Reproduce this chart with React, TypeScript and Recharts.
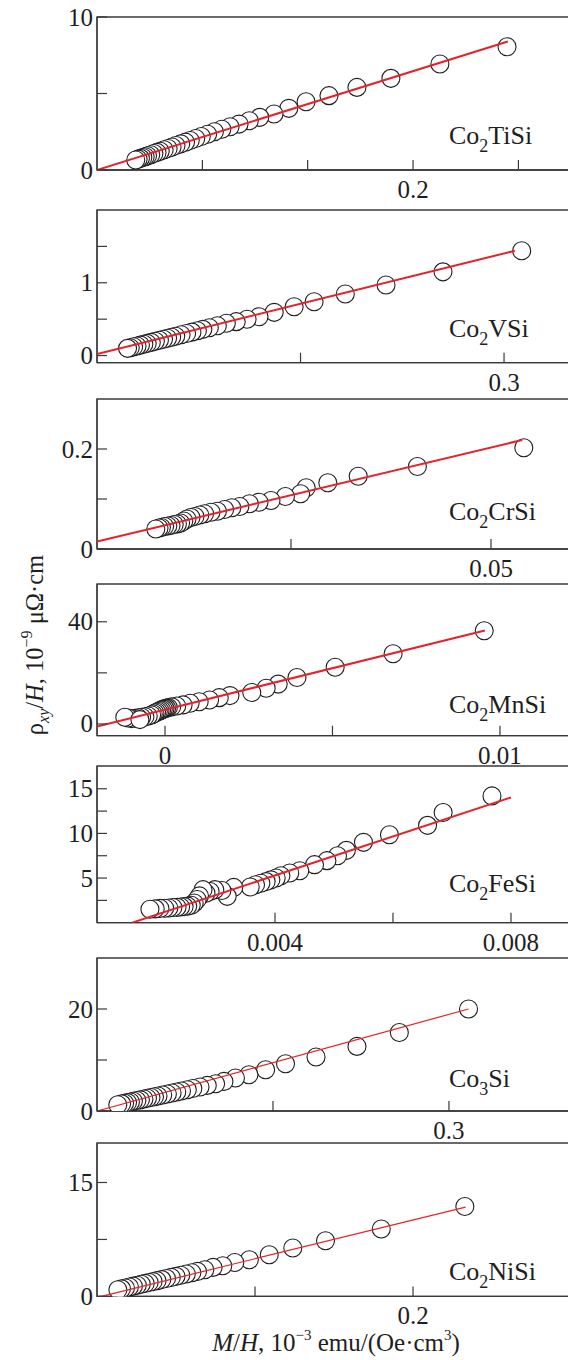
import React from 'react'
import { ScatterChart, Scatter, XAxis, YAxis, ReferenceArea } from 'recharts'

const FONT = '"Liberation Serif", "Times New Roman", serif'
const AXIS = '#3a3a3a'
const RED = '#e5222a'
const INK = '#1e1e1e'

// Co2TiSi
const tiX = [0.2595, 0.217, 0.186, 0.1645, 0.1468, 0.1323, 0.1214, 0.112, 0.103, 0.0964, 0.0899, 0.0842, 0.079, 0.0743, 0.070, 0.066, 0.0625, 0.059, 0.056, 0.053, 0.050, 0.0475, 0.045, 0.0425, 0.040, 0.038, 0.036, 0.034, 0.032, 0.0305, 0.029, 0.0275, 0.026, 0.0245]
const tiY = [8.06, 6.93, 5.99, 5.40, 4.86, 4.46, 4.03, 3.66, 3.44, 3.22, 3.0, 2.83, 2.66, 2.5, 2.34, 2.19, 2.06, 1.93, 1.82, 1.71, 1.60, 1.50, 1.41, 1.32, 1.23, 1.15, 1.08, 1.00, 0.93, 0.87, 0.82, 0.76, 0.71, 0.65]
const tiFitX = [0, 0.26]
const tiFitY = [0, 8.4]

// Co2VSi
const vX = [0.313, 0.255, 0.213, 0.183, 0.160, 0.1453, 0.1306, 0.1194, 0.1106, 0.1026, 0.0953, 0.0887, 0.0828, 0.078, 0.074, 0.070, 0.066, 0.062, 0.058, 0.055, 0.052, 0.049, 0.046, 0.043, 0.040, 0.037, 0.0345, 0.032, 0.0295, 0.027, 0.0245, 0.0225]
const vY = [1.44, 1.15, 0.97, 0.846, 0.74, 0.67, 0.594, 0.534, 0.498, 0.466, 0.443, 0.41, 0.383, 0.36, 0.341, 0.322, 0.303, 0.285, 0.266, 0.252, 0.238, 0.224, 0.21, 0.196, 0.181, 0.167, 0.155, 0.144, 0.132, 0.12, 0.108, 0.099]
const vFitX = [0, 0.308]
const vFitY = [0.02, 1.44]

// Co2CrSi
const crX = [0.0541, 0.0408, 0.0334, 0.0296, 0.0269, 0.0262, 0.0243, 0.0225, 0.021, 0.0198, 0.0186, 0.0176, 0.0167, 0.0158, 0.015, 0.0142, 0.0136, 0.013, 0.0125, 0.012, 0.0116, 0.0112, 0.0108, 0.0104, 0.010, 0.0096, 0.0092, 0.0088, 0.0085, 0.0081]
const crY = [0.2024, 0.165, 0.1456, 0.1324, 0.1224, 0.1104, 0.105, 0.097, 0.0936, 0.0904, 0.085, 0.0824, 0.079, 0.0756, 0.0736, 0.0704, 0.068, 0.065, 0.063, 0.060, 0.056, 0.052, 0.050, 0.049, 0.047, 0.046, 0.045, 0.043, 0.042, 0.040]
const crFitX = [0.00075, 0.0539]
const crFitY = [0.015, 0.218]

// Co2MnSi
const mnX = [0.00953, 0.00681, 0.00508, 0.00394, 0.00338, 0.00302, 0.00259, 0.00194, 0.00162, 0.00133, 0.00102, 0.00075, 0.00054, 0.00035, 0.0002, 0.0001, 0.00005, 0.0, -0.00005, -0.0001, -0.00015, -0.0002, -0.00025, -0.0003, -0.00035, -0.0004, -0.0005, -0.0006, -0.0007, -0.0008, -0.0009, -0.001, -0.0011, -0.0012, -0.00075]
const mnY = [36.5, 27.5, 22.2, 18.2, 15.6, 14.0, 12.3, 11.1, 10.3, 9.4, 8.7, 8.1, 7.45, 7.0, 6.7, 6.4, 6.2, 6.0, 5.8, 5.5, 5.2, 4.9, 4.6, 4.3, 3.9, 3.5, 3.1, 2.8, 2.6, 2.4, 2.2, 2.1, 2.3, 2.6, 1.7]
const mnFitX = [-0.00203, 0.00955]
const mnFitY = [-1.0, 36.6]

// Co2FeSi
const feX = [0.007678, 0.00685, 0.006586, 0.00594, 0.0055, 0.00521, 0.00506, 0.00488, 0.00467, 0.00442, 0.00425, 0.0041, 0.00402, 0.00393, 0.00385, 0.00376, 0.00367, 0.00358, 0.0033, 0.00319, 0.0031, 0.00298, 0.0029, 0.00283, 0.00278, 0.00272, 0.00268, 0.00263, 0.00258, 0.00252, 0.00246, 0.0024, 0.00234, 0.00227, 0.0022, 0.00213, 0.00205, 0.00197, 0.00188]
const feY = [14.2, 12.35, 10.9, 9.85, 9.0, 8.1, 7.5, 6.95, 6.5, 5.82, 5.56, 5.26, 5.0, 4.8, 4.6, 4.42, 4.25, 4.0, 3.95, 2.95, 3.6, 3.7, 3.5, 3.3, 3.7, 3.0, 2.6, 2.2, 1.95, 1.85, 1.8, 1.75, 1.72, 1.7, 1.65, 1.62, 1.6, 1.55, 1.5]
const feFitX = [0.00158, 0.008]
const feFitY = [0, 14.03]

// Co3Si
const co3X = [0.3167, 0.2577, 0.2216, 0.1867, 0.1607, 0.1437, 0.1295, 0.118, 0.1082, 0.1011, 0.094, 0.0878, 0.0817, 0.077, 0.072, 0.068, 0.064, 0.060, 0.056, 0.052, 0.049, 0.046, 0.043, 0.040, 0.037, 0.034, 0.031, 0.0285, 0.026, 0.0235, 0.021, 0.0177]
const co3Y = [20.0, 15.4, 12.67, 10.6, 9.27, 8.1, 7.12, 6.46, 5.8, 5.35, 5.02, 4.7, 4.4, 4.17, 3.92, 3.72, 3.53, 3.33, 3.13, 2.93, 2.79, 2.64, 2.49, 2.34, 2.19, 2.05, 1.9, 1.77, 1.65, 1.53, 1.4, 1.24]
const co3FitX = [0, 0.3167]
const co3FitY = [0, 20.0]

// Co2NiSi
const niX = [0.2328, 0.1799, 0.1446, 0.1239, 0.109, 0.0964, 0.0872, 0.0796, 0.0734, 0.0682, 0.0636, 0.060, 0.0565, 0.053, 0.050, 0.047, 0.044, 0.041, 0.038, 0.0355, 0.033, 0.0305, 0.028, 0.0255, 0.023, 0.0205, 0.018, 0.0155, 0.0132]
const niY = [11.84, 8.87, 7.33, 6.37, 5.49, 4.83, 4.47, 4.04, 3.82, 3.51, 3.29, 3.12, 2.95, 2.79, 2.64, 2.5, 2.35, 2.21, 2.07, 1.95, 1.83, 1.71, 1.59, 1.47, 1.35, 1.23, 1.11, 0.99, 0.88]
const niFitX = [0.0028, 0.2333]
const niFitY = [0, 11.76]

// axis ticks and labels
const tiXTicks = [0.0667, 0.1333, 0.2, 0.2667]
const tiXLabels = ['', '', '0.2', '']
const tiYTicks = [0, 5, 10]
const tiYLabels = ['0', '', '10']

const vXTicks = [0.15, 0.3]
const vXLabels = ['', '0.3']
const vYTicks = [0, 0.5, 1, 1.5]
const vYLabels = ['0', '', '1', '']

const crXTicks = [0.025, 0.05]
const crXLabels = ['', '0.05']
const crYTicks = [0, 0.1, 0.2]
const crYLabels = ['0', '', '0.2']

const mnXTicks = [0, 0.005, 0.01]
const mnXLabels = ['0', '', '0.01']
const mnYTicks = [0, 20, 40]
const mnYLabels = ['0', '', '40']

const feXTicks = [0.004, 0.006, 0.008]
const feXLabels = ['0.004', '', '0.008']
const feYTicks = [2.5, 5, 7.5, 10, 12.5, 15]
const feYLabels = ['', '5', '', '10', '', '15']

const co3XTicks = [0.15, 0.3]
const co3XLabels = ['', '0.3']
const co3YTicks = [0, 10, 20]
const co3YLabels = ['0', '', '20']

const niXTicks = [0.1, 0.2]
const niXLabels = ['', '0.2']
const niYTicks = [0, 7.5, 15]
const niYLabels = ['0', '', '15']

const compounds = [
  ['Co', '2', 'TiSi'],
  ['Co', '2', 'VSi'],
  ['Co', '2', 'CrSi'],
  ['Co', '2', 'MnSi'],
  ['Co', '2', 'FeSi'],
  ['Co', '3', 'Si'],
  ['Co', '2', 'NiSi'],
]

const panels = [
  { xs: tiX, ys: tiY, fx: tiFitX, fy: tiFitY, xd: [0, 0.3044], yd: [0, 10], xt: tiXTicks, xl: tiXLabels, yt: tiYTicks, yl: tiYLabels, top: 17, h: 153, lw: 2, lab: 144 },
  { xs: vX, ys: vY, fx: vFitX, fy: vFitY, xd: [0, 0.3545], yd: [-0.098, 2.0], xt: vXTicks, xl: vXLabels, yt: vYTicks, yl: vYLabels, top: 210, h: 152.7, lw: 2, lab: 337 },
  { xs: crX, ys: crY, fx: crFitX, fy: crFitY, xd: [0.00075, 0.060875], yd: [0, 0.3], xt: crXTicks, xl: crXLabels, yt: crYTicks, yl: crYLabels, top: 398.5, h: 150, lw: 2, lab: 520 },
  { xs: mnX, ys: mnY, fx: mnFitX, fy: mnFitY, xd: [-0.00203, 0.01233], yd: [-4.6, 54.8], xt: mnXTicks, xl: mnXLabels, yt: mnYTicks, yl: mnYLabels, top: 584, h: 151.7, lw: 2, lab: 713 },
  { xs: feX, ys: feY, fx: feFitX, fy: feFitY, xd: [0.000983, 0.009136], yd: [0, 17.55], xt: feXTicks, xl: feXLabels, yt: feYTicks, yl: feYLabels, top: 766, h: 156.7, lw: 2, lab: 892 },
  { xs: co3X, ys: co3Y, fx: co3FitX, fy: co3FitY, xd: [0, 0.41], yd: [0, 30], xt: co3XTicks, xl: co3XLabels, yt: co3YTicks, yl: co3YLabels, top: 958.3, h: 153, lw: 1.2, lab: 1087 },
  { xs: niX, ys: niY, fx: niFitX, fy: niFitY, xd: [0, 0.3044], yd: [0, 20.2], xt: niXTicks, xl: niXLabels, yt: niYTicks, yl: niYLabels, top: 1143.3, h: 153.4, lw: 1.2, lab: 1280 },
]

const Ring = (p: any) => (
  <circle cx={p.cx} cy={p.cy} r={9} fill="#fff" stroke={INK} strokeWidth={1.1} />
)
const Nothing = () => <g />

function XTick(props: any) {
  const { x, y, payload, ticks, labels } = props
  const i = ticks.indexOf(payload.value)
  return (
    <g>
      <line x1={x} x2={x} y1={y} y2={y - 10} stroke={AXIS} strokeWidth={1.2} />
      {labels[i] ? (
        <text x={x} y={y + 28} textAnchor="middle" fontSize={25} style={{ fontFamily: FONT }} fill={INK}>{labels[i]}</text>
      ) : null}
    </g>
  )
}

function YTick(props: any) {
  const { x, y, payload, ticks, labels } = props
  const i = ticks.indexOf(payload.value)
  return (
    <g>
      <line x1={x} x2={x + 10} y1={y} y2={y} stroke={AXIS} strokeWidth={1.2} />
      {labels[i] ? (
        <text x={x - 4} y={y} dy="0.34em" textAnchor="end" fontSize={25} style={{ fontFamily: FONT }} fill={INK}>{labels[i]}</text>
      ) : null}
    </g>
  )
}

function Panel({ p }: { p: any }) {
  const pts = p.xs.map((x: number, i: number) => ({ x, y: p.ys[i] }))
  const fit = p.fx.map((x: number, i: number) => ({ x, y: p.fy[i] }))
  return (
    <div style={{ position: 'absolute', left: 0, top: p.top - 20 }}>
      <ScatterChart width={620} height={p.h + 60} margin={{ top: 20, right: 42, bottom: 0, left: 0 }}>
        <XAxis
          type="number" dataKey="x" domain={p.xd} ticks={p.xt} interval={0} allowDataOverflow
          height={40} tickSize={0} tickMargin={0} tickLine={false}
          axisLine={{ stroke: AXIS, strokeWidth: 1.3 }}
          tick={(t: any) => <XTick {...t} ticks={p.xt} labels={p.xl} />}
        />
        <YAxis
          type="number" dataKey="y" domain={p.yd} ticks={p.yt} interval={0} allowDataOverflow
          width={97} tickSize={0} tickMargin={0} tickLine={false}
          axisLine={{ stroke: AXIS, strokeWidth: 1.3 }}
          tick={(t: any) => <YTick {...t} ticks={p.yt} labels={p.yl} />}
        />
        <ReferenceArea x1={p.xd[0]} x2={p.xd[1]} y1={p.yd[0]} y2={p.yd[1]} fill="none" fillOpacity={0} stroke={AXIS} strokeWidth={1.3} />
        <Scatter data={pts} shape={Ring} isAnimationActive={false} />
        <Scatter data={fit} shape={Nothing} line={{ stroke: RED, strokeWidth: p.lw }} isAnimationActive={false} />
      </ScatterChart>
    </div>
  )
}

export default function App() {
  return (
    <div style={{ position: 'absolute', left: 0, top: 0, width: 568, height: 1360, overflow: 'hidden', background: '#fff' }}>
      {panels.map((p, i) => <Panel key={i} p={p} />)}
      <svg width={568} height={1360} style={{ position: 'absolute', left: 0, top: 0, pointerEvents: 'none', fontFamily: FONT }} fill={INK}>
        {panels.map((p, i) => (
          <text key={i} x={449} y={p.lab} fontSize={26}>
            <tspan>{compounds[i][0]}</tspan>
            <tspan fontSize={18} dy={8}>{compounds[i][1]}</tspan>
            <tspan dy={-8}>{compounds[i][2]}</tspan>
          </text>
        ))}
        <text x={43} y={645} transform="rotate(-90 43 645)" textAnchor="middle" fontSize={24.5}>
          <tspan>ρ</tspan>
          <tspan fontSize={16} fontStyle="italic" dy={6}>xy</tspan>
          <tspan dy={-6}>/</tspan>
          <tspan fontStyle="italic">H</tspan>
          <tspan>, 10</tspan>
          <tspan fontSize={16} dy={-11}>−9</tspan>
          <tspan dy={11}> μΩ·cm</tspan>
        </text>
        <text x={336} y={1351} textAnchor="middle" fontSize={25}>
          <tspan fontStyle="italic">M</tspan>
          <tspan>/</tspan>
          <tspan fontStyle="italic">H</tspan>
          <tspan>, 10</tspan>
          <tspan fontSize={15} dy={-11}>−3</tspan>
          <tspan dy={11}> emu/(Oe·cm</tspan>
          <tspan fontSize={15} dy={-11}>3</tspan>
          <tspan dy={11}>)</tspan>
        </text>
      </svg>
    </div>
  )
}
